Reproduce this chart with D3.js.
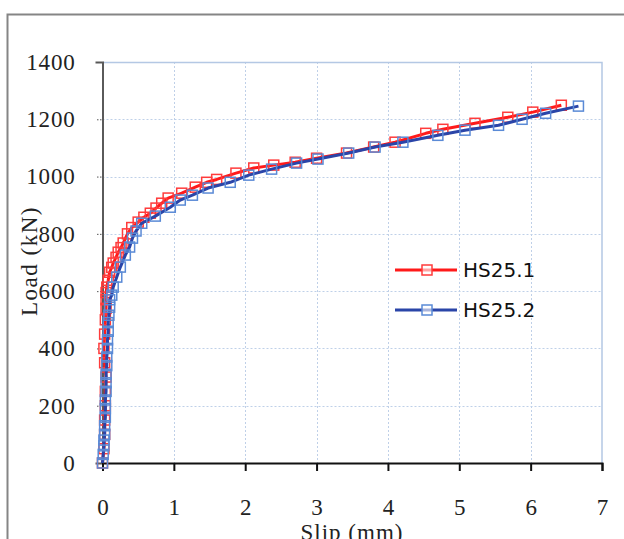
<!DOCTYPE html>
<html>
<head>
<meta charset="utf-8">
<script src="https://cdn.jsdelivr.net/npm/d3@7"></script>
<style>
  body { margin: 0; background: #fff; }
  svg { display: block; }
</style>
</head>
<body>
<div id="chart"></div>
<script>
// HS25.1 (red) slip (mm) / load (kN)
const hs1Slip = [0, 0.02, 0.03, 0.03, 0.04, 0.04, 0.05, 0.03, 0.02, 0.03, 0.04, 0.05, 0.05, 0.05, 0.06, 0.08, 0.1, 0.13, 0.15, 0.19, 0.22, 0.26, 0.29, 0.35, 0.41, 0.5, 0.58, 0.67, 0.75, 0.83, 0.92, 1.11, 1.3, 1.46, 1.6, 1.87, 2.12, 2.4, 2.7, 3.0, 3.42, 3.8, 4.1, 4.53, 4.77, 5.22, 5.68, 6.03, 6.43]
const hs1Load = [0, 50, 100, 150, 200, 250, 300, 350, 400, 450, 500, 540, 570, 595, 614, 638, 666, 683, 698, 718, 736, 752, 768, 800, 822, 841, 858, 872, 890, 907, 925, 942, 963, 980, 990, 1012, 1030, 1040, 1050, 1064, 1082, 1103, 1120, 1151, 1165, 1186, 1207, 1225, 1249]

// HS25.2 (blue)
const hs2Slip = [0, 0.01, 0.02, 0.02, 0.03, 0.03, 0.04, 0.04, 0.04, 0.05, 0.05, 0.05, 0.06, 0.06, 0.07, 0.07, 0.08, 0.08, 0.09, 0.1, 0.1, 0.13, 0.15, 0.2, 0.25, 0.32, 0.38, 0.42, 0.47, 0.55, 0.74, 0.95, 1.09, 1.26, 1.48, 1.79, 2.05, 2.37, 2.72, 3.02, 3.45, 3.82, 4.21, 4.7, 5.08, 5.55, 5.88, 6.21, 6.67]
const hs2Load = [0, 30, 60, 80, 100, 130, 160, 190, 220, 250, 280, 310, 340, 370, 400, 430, 460, 490, 516, 544, 570, 586, 614, 649, 684, 726, 754, 785, 810, 837, 862, 893, 918, 935, 960, 980, 1005, 1026, 1047, 1061, 1082, 1103, 1120, 1144, 1162, 1179, 1200, 1221, 1246]

const xTicks = [0, 1, 2, 3, 4, 5, 6, 7]
const yTicks = [0, 200, 400, 600, 800, 1000, 1200, 1400]
const seriesNames = ['HS25.1', 'HS25.2']

const width = 624
const height = 539
const margin = { left: 102.5, right: 22, top: 62, bottom: 76 }

const svg = d3
  .select('#chart')
  .append('svg')
  .attr('width', width)
  .attr('height', height)

// outer frame
svg
  .append('rect')
  .attr('x', 7.5)
  .attr('y', 14.5)
  .attr('width', 700)
  .attr('height', 600)
  .attr('fill', 'none')
  .attr('stroke', '#858585')
  .attr('stroke-width', 2)

const xScale = d3
  .scaleLinear()
  .domain([0, 7])
  .range([margin.left, width - margin.right])

const yScale = d3
  .scaleLinear()
  .domain([0, 1400])
  .range([height - margin.bottom, margin.top])

const gridColor = '#bfd0e8'

// grid lines
svg
  .selectAll('.hgrid')
  .data(yTicks.slice(1, -1))
  .enter()
  .append('line')
  .attr('class', 'hgrid')
  .attr('x1', xScale(0))
  .attr('x2', xScale(7))
  .attr('y1', d => Math.round(yScale(d)) + 0.5)
  .attr('y2', d => Math.round(yScale(d)) + 0.5)
  .attr('stroke', gridColor)
  .attr('stroke-dasharray', '2,2')

svg
  .selectAll('.vgrid')
  .data(xTicks.slice(1, -1))
  .enter()
  .append('line')
  .attr('class', 'vgrid')
  .attr('x1', d => Math.round(xScale(d)) + 0.5)
  .attr('x2', d => Math.round(xScale(d)) + 0.5)
  .attr('y1', yScale(1400))
  .attr('y2', yScale(0))
  .attr('stroke', gridColor)
  .attr('stroke-dasharray', '2,2')

// plot area border top + right
svg
  .append('path')
  .attr('d', 'M' + xScale(0) + ',' + (yScale(1400) + 0.5) + 'H' + xScale(7) + 'V' + yScale(0))
  .attr('fill', 'none')
  .attr('stroke', '#b4c8e4')
  .attr('stroke-width', 1.5)

// y axis
const yAxis = d3
  .axisLeft(yScale)
  .tickValues(yTicks)
  .tickFormat(d3.format('d'))
  .tickSize(7)
  .tickPadding(20)
const yg = svg
  .append('g')
  .attr('class', 'axis y-axis')
  .attr('transform', 'translate(' + xScale(0) + ',0)')
  .call(yAxis)
yg.select('.domain').attr('stroke', '#5a5a5a').attr('stroke-width', 2)
yg.selectAll('.tick line')
  .attr('stroke', '#555')
  .attr('stroke-dasharray', '1.5,1.5')
  .attr('x2', -7)
  .attr('x1', -1)
yg.selectAll('.tick text')
  .attr('font-family', '"Liberation Serif", serif')
  .attr('font-size', 23)
  .attr('letter-spacing', 0.8)
  .attr('fill', '#222')

// x axis
const xAxis = d3
  .axisBottom(xScale)
  .tickValues(xTicks)
  .tickFormat(d3.format('d'))
  .tickSize(8)
  .tickPadding(28)
const xg = svg
  .append('g')
  .attr('class', 'axis x-axis')
  .attr('transform', 'translate(0,' + yScale(0) + ')')
  .call(xAxis)
xg.select('.domain').attr('stroke', '#111').attr('stroke-width', 2)
xg.selectAll('.tick line').attr('stroke', '#111').attr('stroke-width', 2)
xg.selectAll('.tick text')
  .attr('font-family', '"Liberation Serif", serif')
  .attr('font-size', 23)
  .attr('fill', '#222')

// axis titles
svg
  .append('text')
  .text('Slip (mm)')
  .attr('x', 352)
  .attr('y', 540)
  .attr('text-anchor', 'middle')
  .attr('font-family', '"Liberation Serif", serif')
  .attr('font-size', 23)
  .attr('letter-spacing', 1)
  .attr('fill', '#222')

svg
  .append('text')
  .text('Load (kN)')
  .attr('transform', 'translate(37,' + 261 + ') rotate(-90)')
  .attr('text-anchor', 'middle')
  .attr('font-family', '"Liberation Serif", serif')
  .attr('font-size', 23)
  .attr('letter-spacing', 1.5)
  .attr('fill', '#222')

// series
const series = [
  { name: seriesNames[0], slip: hs1Slip, load: hs1Load, line: '#ff1a1a', marker: '#ff3b3b' },
  { name: seriesNames[1], slip: hs2Slip, load: hs2Load, line: '#2a45a8', marker: '#5a8ad6' }
]

const size = 10

series.forEach(s => {
  const pts = s.slip.map((v, i) => [v, s.load[i]])
  svg
    .append('path')
    .datum(pts)
    .attr('d', d3.line().x(d => xScale(d[0])).y(d => yScale(d[1])))
    .attr('fill', 'none')
    .attr('stroke', s.line)
    .attr('stroke-width', 3)
    .attr('stroke-linejoin', 'round')

  svg
    .append('g')
    .selectAll('rect')
    .data(pts)
    .enter()
    .append('rect')
    .attr('x', d => xScale(d[0]) - size / 2)
    .attr('y', d => yScale(d[1]) - size / 2)
    .attr('width', size)
    .attr('height', size)
    .attr('fill', 'none')
    .attr('stroke', s.marker)
    .attr('stroke-width', 1.5)
})

// legend
const legend = svg
  .selectAll('.legend')
  .data(series)
  .enter()
  .append('g')
  .attr('class', 'legend')
  .attr('transform', (d, i) => 'translate(395,' + (270 + i * 40) + ')')

legend
  .append('line')
  .attr('x1', 0)
  .attr('x2', 62)
  .attr('stroke', d => d.line)
  .attr('stroke-width', 3)

legend
  .append('rect')
  .attr('x', 32 - size / 2)
  .attr('y', -size / 2)
  .attr('width', size)
  .attr('height', size)
  .attr('fill', '#fff')
  .attr('fill-opacity', 0.6)
  .attr('stroke', d => d.marker)
  .attr('stroke-width', 1.5)

legend
  .append('text')
  .text(d => d.name)
  .attr('x', 68)
  .attr('y', 0)
  .attr('dy', '0.36em')
  .attr('font-family', '"DejaVu Sans", sans-serif')
  .attr('font-size', 20)
  .attr('fill', '#111')
</script>
</body>
</html>
